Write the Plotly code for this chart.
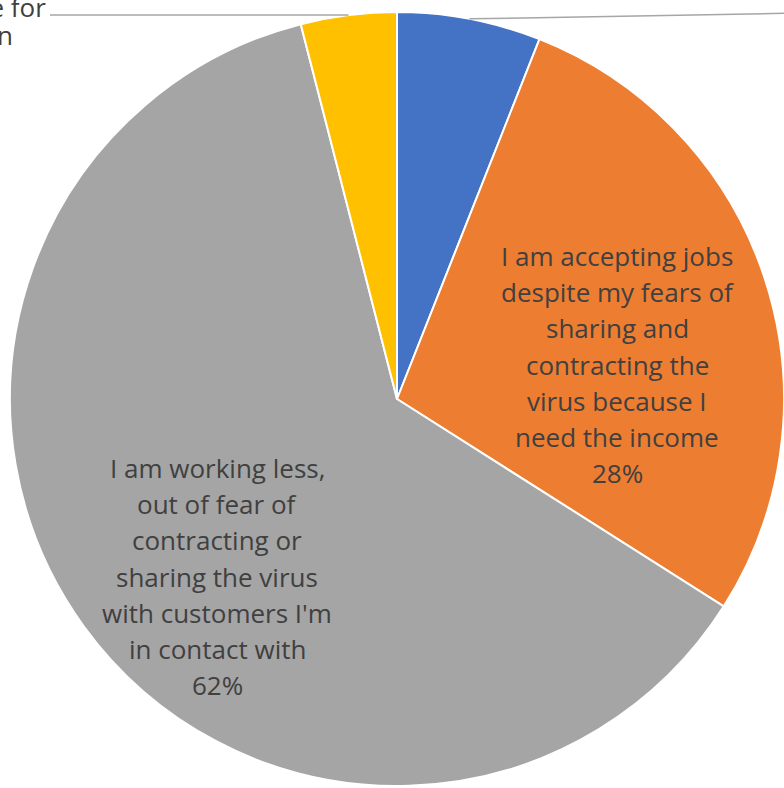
import math
import plotly.graph_objects as go

# Survey answers, slice values (%) and slice colours
labels = [
    "I am not worried and I<br>keep working as usual",
    "I am accepting jobs<br>despite my fears of<br>sharing and<br>contracting the<br>virus because I<br>need the income",
    "I am working less,<br>out of fear of<br>contracting or<br>sharing the virus<br>with customers I'm<br>in contact with",
    "I have stopped working<br>because I am not yet eligible for<br>any form of compensation",
]
values = [6, 28, 62, 4]
colors = ["#4472C4", "#ED7D31", "#A5A5A5", "#FFC000"]

W, H = 784, 788
FONT = "Open Sans"
FONT_SIZE = 26
TEXT_COLOR = "#404040"
LEADER_COLOR = "#A6A6A6"

# pie domain in pixels (left, top, right, bottom)
dom = (10, 10, 784, 788)
cx = (dom[0] + dom[2]) / 2
cy = (dom[1] + dom[3]) / 2
radius = min(dom[2] - dom[0], dom[3] - dom[1]) / 2

total = sum(values)
pcts = [f"{round(v / total * 100)}%" for v in values]


def px_x(x):
    return x / W


def px_y(y):
    return 1 - y / H


def slice_edge_point(idx):
    """Point on the rim at the middle of slice idx (clockwise from 12 o'clock)."""
    start = sum(values[:idx]) / total
    mid = start + values[idx] / total / 2
    ang = mid * 2 * math.pi
    return cx + radius * math.sin(ang), cy - radius * math.cos(ang)


fig = go.Figure(
    go.Pie(
        labels=[l.replace("<br>", " ") for l in labels],
        values=values,
        marker=dict(colors=colors, line=dict(color="white", width=2)),
        sort=False,
        direction="clockwise",
        rotation=0,
        textinfo="none",
        hoverinfo="label+percent",
        domain=dict(x=[dom[0] / W, dom[2] / W], y=[1 - dom[3] / H, 1 - dom[1] / H]),
        showlegend=False,
    )
)

# data label layout: (center x px, first baseline px, line step px);
# the first slice's label sits past the right edge of the page
label_layout = {
    1: (617, 265, 36.3),
    2: (217, 477, 36.3),
    3: (-147, -12, 28),
}

annotations = []
for i, (lab, pct) in enumerate(zip(labels, pcts)):
    if i not in label_layout:
        continue
    lx, base, step = label_layout[i]
    lines = lab.split("<br>") + [pct]
    for k, line in enumerate(lines):
        yb = base + k * step
        annotations.append(
            dict(
                text=line,
                x=px_x(lx),
                y=px_y(yb - 0.36 * FONT_SIZE),
                xref="paper",
                yref="paper",
                xanchor="center",
                yanchor="middle",
                showarrow=False,
                font=dict(family=FONT, size=FONT_SIZE, color=TEXT_COLOR),
            )
        )

# leader lines for the two small slices
shapes = []
bx, by = slice_edge_point(0)
shapes.append(dict(type="line", xref="paper", yref="paper",
                   x0=px_x(bx), y0=px_y(by), x1=px_x(800), y1=px_y(13),
                   line=dict(color=LEADER_COLOR, width=1.5)))
yx, yy = slice_edge_point(3)
shapes.append(dict(type="line", xref="paper", yref="paper",
                   x0=px_x(yx), y0=px_y(yy), x1=px_x(50), y1=px_y(15),
                   line=dict(color=LEADER_COLOR, width=1.5)))

fig.update_layout(
    width=W,
    height=H,
    margin=dict(l=0, r=0, t=0, b=0),
    paper_bgcolor="white",
    plot_bgcolor="white",
    annotations=annotations,
    shapes=shapes,
    font=dict(family=FONT),
)

fig.write_html("out.html")
